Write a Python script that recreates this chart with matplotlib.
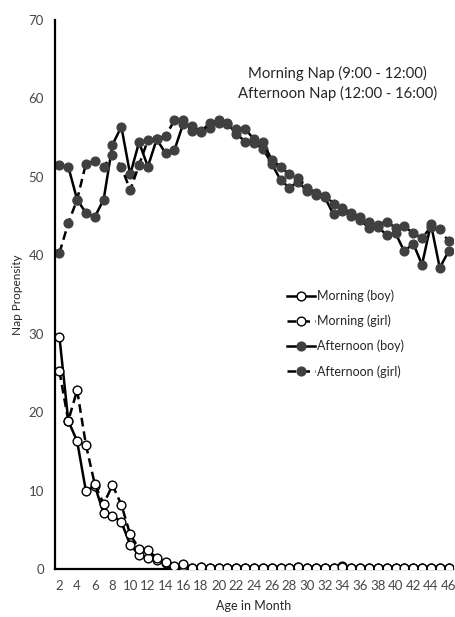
import matplotlib.pyplot as plt

plt.rcParams['font.family'] = ['Lato', 'DejaVu Sans']

# Age in months
months = list(range(2, 47))

morning_boy = [29.6, 18.9, 16.3, 9.9, 10.6, 7.1, 6.8, 6.0, 3.1, 1.8, 1.4, 1.2, 0.8, 0.3, 0.4,
               0.1, 0.2, 0.1, 0.1, 0.1, 0.1, 0.1, 0.1, 0.1, 0.1, 0.1, 0.1, 0.3, 0.1, 0.1,
               0.1, 0.1, 0.4, 0.1, 0.1, 0.1, 0.1, 0.1, 0.1, 0.1, 0.1, 0.1, 0.1, 0.1, 0.1]
morning_girl = [25.2, 18.9, 22.8, 15.8, 10.8, 8.3, 10.7, 8.2, 4.4, 2.6, 2.4, 1.4, 0.9, 0.4, 0.6,
                0.1, 0.2, 0.1, 0.1, 0.1, 0.1, 0.1, 0.1, 0.1, 0.1, 0.1, 0.1, 0.2, 0.1, 0.1,
                0.1, 0.1, 0.2, 0.1, 0.1, 0.1, 0.1, 0.1, 0.1, 0.1, 0.1, 0.1, 0.1, 0.1, 0.1]
afternoon_boy = [51.5, 51.3, 47.1, 45.4, 44.9, 47.1, 54.1, 56.4, 50.3, 54.4, 51.3, 54.8, 53.0,
                 53.4, 56.8, 56.5, 55.8, 56.2, 56.9, 56.8, 55.5, 54.5, 54.3, 53.6, 51.7, 49.6,
                 48.6, 49.4, 48.2, 47.7, 47.4, 45.2, 45.6, 45.0, 44.5, 43.5, 43.6, 42.6, 42.8,
                 40.5, 41.5, 38.8, 44.0, 38.4, 40.5]
afternoon_girl = [40.3, 44.1, 47.1, 51.7, 52.0, 51.3, 52.8, 51.3, 48.3, 51.5, 54.7, 54.8, 55.2,
                  57.2, 57.2, 55.8, 55.7, 56.9, 57.2, 56.9, 56.1, 56.1, 54.8, 54.4, 52.2, 51.3,
                  50.3, 49.8, 48.6, 48.0, 47.6, 46.6, 46.0, 45.4, 44.9, 44.2, 43.9, 44.3, 43.5,
                  43.7, 42.8, 42.2, 43.6, 43.3, 41.8]

fig = plt.figure(figsize=(4.55, 6.17), dpi=100)
ax = fig.add_axes([0.1209, 0.0778, 0.8747, 0.8898])

dark = '#404040'
ax.plot(months, morning_boy, color='black', lw=1.8, marker='o', ms=6.3,
        mfc='white', mec='black', mew=1.0, label='Morning (boy)')
ax.plot(months, morning_girl, color='black', lw=1.8, ls=(0, (3.5, 2)), marker='o', ms=6.3,
        mfc='white', mec='black', mew=1.0, label='Morning (girl)')
ax.plot(months, afternoon_boy, color='black', lw=1.8, marker='o', ms=6.3,
        mfc=dark, mec=dark, label='Afternoon (boy)')
ax.plot(months, afternoon_girl, color='black', lw=1.8, ls=(0, (3.5, 2)), marker='o', ms=6.3,
        mfc=dark, mec=dark, label='Afternoon (girl)')

ax.set_xlim(1.5, 46.5)
ax.set_ylim(0, 70)
ax.set_xticks(range(2, 47, 2))
ax.set_yticks(range(0, 71, 10))
ax.tick_params(length=0, labelsize=9.5, labelcolor='#474747', pad=8)
for s in ['top', 'right']:
    ax.spines[s].set_visible(False)
for s in ['left', 'bottom']:
    ax.spines[s].set_linewidth(1.6)
ax.spines['bottom'].set_zorder(0)

ax.set_xlabel('Age in Month', fontsize=9, color='#262626', labelpad=6)
ax.set_ylabel('Nap Propensity', fontsize=8.5, color='#262626', labelpad=4)

ax.text(0.71, 0.884, 'Morning Nap (9:00 - 12:00)\nAfternoon Nap (12:00 - 16:00)',
        transform=ax.transAxes, ha='center', va='center', fontsize=10.7,
        color='#262626', linespacing=1.45)

leg = ax.legend(loc='upper left', bbox_to_anchor=(0.555, 0.529), frameon=False,
                fontsize=9, handlelength=2.2, handletextpad=0.2, labelspacing=1.0)
for t in leg.get_texts():
    t.set_color('#262626')

fig.savefig('out.png', dpi=100)
